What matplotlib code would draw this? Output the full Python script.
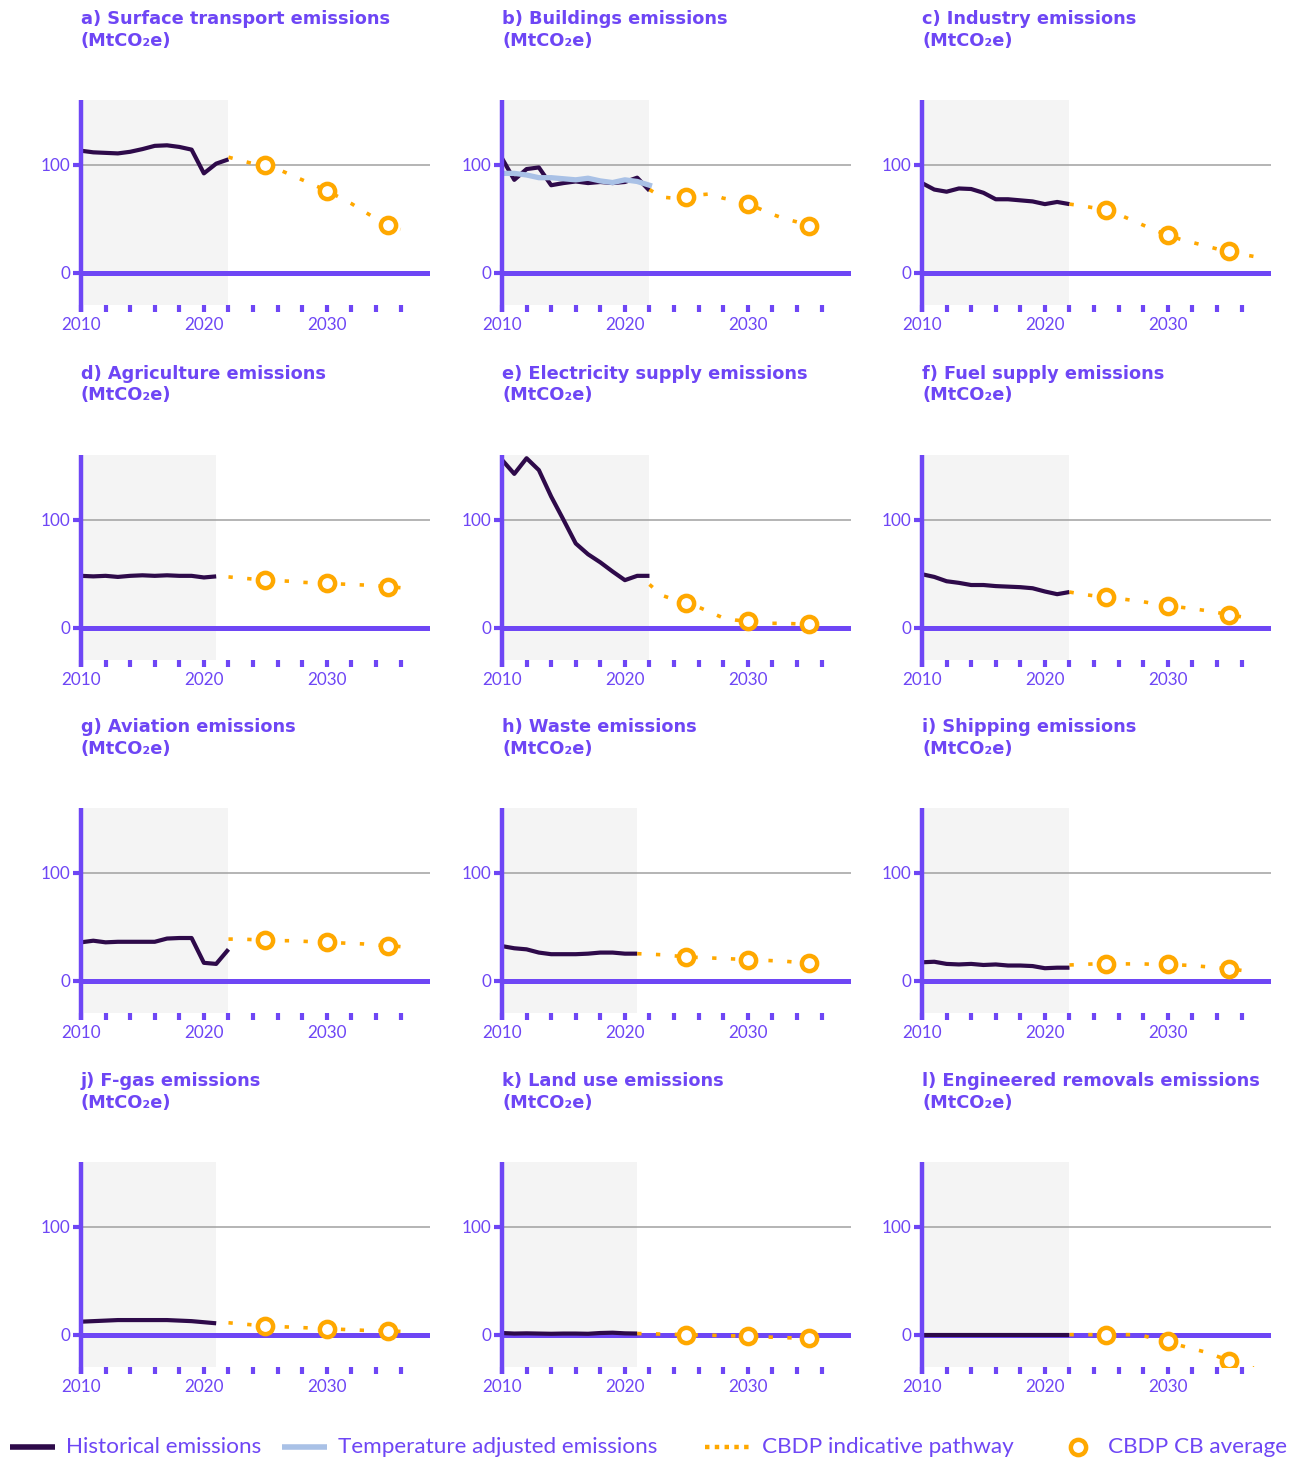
import matplotlib
matplotlib.use("Agg")
import matplotlib.pyplot as plt
import matplotlib.transforms as mtransforms
from matplotlib.lines import Line2D

plt.rcParams['font.family'] = ['Lato', 'DejaVu Sans']

PURPLE = '#6E46F5'
DARK = '#2E0A4A'
ORANGE = '#FFA800'
LBLUE = '#A9C1E6'
SHADE = '#F4F4F4'

titles = [
    "a) Surface transport emissions", "b) Buildings emissions", "c) Industry emissions",
    "d) Agriculture emissions", "e) Electricity supply emissions", "f) Fuel supply emissions",
    "g) Aviation emissions", "h) Waste emissions", "i) Shipping emissions",
    "j) F-gas emissions", "k) Land use emissions", "l) Engineered removals emissions",
]
unit_label = "(MtCO\u2082e)"

# historical emissions (start year 2010)
a_hist = [113, 111.5, 111, 110.5, 112, 114.5, 117.5, 118, 116.5, 114, 92, 101, 105]
b_hist = [106, 86, 96, 97.5, 81, 83, 84.5, 83, 84, 83, 84, 88, 76]
c_hist = [83, 77, 75, 78, 77.5, 74, 68, 68, 67, 66, 63.5, 65.5, 63.5]
d_hist = [48, 47.5, 48, 47, 48, 48.5, 48, 48.5, 48, 48, 46.5, 47.5]
e_hist = [155.5, 142.5, 157, 146, 121.5, 100, 78, 68, 60.5, 52, 44, 48, 48]
f_hist = [49.5, 47, 43, 41.5, 39.5, 39.5, 38.5, 38, 37.5, 36.5, 33.5, 31, 33]
g_hist = [35.5, 37, 35.5, 36, 36, 36, 36, 39, 39.5, 39.5, 16.5, 15.5, 29]
h_hist = [32, 30, 29, 26, 24.5, 24.5, 24.5, 25, 26, 26, 25, 25]
i_hist = [17, 17.5, 15.5, 15, 15.5, 14.5, 15, 14, 14, 13.5, 11.5, 12, 12]
j_hist = [12, 12.5, 13, 13.5, 13.5, 13.5, 13.5, 13.5, 13, 12.5, 11.5, 10.5]
k_hist = [1.5, 1, 1.2, 1, 0.8, 1, 1, 0.8, 1.5, 1.8, 1.2, 1]
l_hist = [0, 0, 0, 0, 0, 0, 0, 0, 0, 0, 0, 0, 0]

# temperature adjusted (buildings only, start 2010)
b_temp = [92, 92, 90.5, 88, 88, 87, 86, 87.5, 85, 83.5, 86, 84.5, 81]

# CBDP indicative pathway (start year given separately)
a_path = [107, 104, 101, 100, 96, 91, 86, 81, 76, 70, 64, 57, 50, 44, 40]
b_path = [77, 70, 69, 70.5, 72, 73, 69, 67, 64, 59, 54, 50, 47, 43, 36]
c_path = [63.5, 62, 60, 58, 54, 49, 44, 39, 35, 31, 28, 25, 22, 20, 17, 15]
d_path = [47, 46, 45, 44, 43.5, 43, 42, 41.5, 41, 40.5, 40, 39.5, 39, 38, 37]
e_path = [40, 30, 26, 22.5, 19, 14, 9, 7, 6, 5, 4, 4, 3.5, 3.5, 3]
f_path = [33, 31, 29.5, 28, 27, 25.5, 24, 22, 20.5, 19, 17.5, 16, 14, 12, 10]
g_path = [38.5, 38.5, 38, 37.5, 37, 37, 36.5, 36, 35.5, 35, 34.5, 34, 33, 32.5, 31.5]
h_path = [25, 24.5, 24, 23, 22, 21.5, 21, 20.5, 20, 19.5, 19, 18.5, 18, 17, 16.5, 15]
i_path = [14.5, 15, 15.5, 15.5, 15.5, 15.5, 15.5, 15, 15, 14.5, 14, 13, 12, 11, 9.5]
j_path = [11, 10, 9, 8, 7.5, 7, 6.5, 6, 5.5, 5, 4.5, 4, 4, 3.5, 3]
k_path = [1, 0.8, 0.5, 0.3, 0, -0.3, -0.6, -0.9, -1.2, -1.5, -2, -2.4, -2.8, -3.2, -3.5, -3.8]
l_path = [0, 0, 0, 0, 0, 0, -1, -4, -7, -10, -13, -16, -20, -24, -28, -31]
path_start = [2022, 2022, 2022, 2022, 2022, 2022, 2022, 2021, 2022, 2022, 2021, 2022]

# CB averages at 2025, 2030, 2035
cb_years = [2025, 2030, 2035]
a_cb = [100, 75.5, 44]
b_cb = [70.5, 64, 43]
c_cb = [58, 35, 20]
d_cb = [44, 41, 38]
e_cb = [22.5, 6.5, 3.7]
f_cb = [28, 20.5, 12]
g_cb = [37.5, 35.5, 32.5]
h_cb = [22, 19.5, 16.5]
i_cb = [15.5, 15, 11]
j_cb = [8, 5.5, 3.5]
k_cb = [0, -1.5, -3.5]
l_cb = [0, -6, -24]

legend_labels = ["Historical emissions", "Temperature adjusted emissions",
                 "CBDP indicative pathway", "CBDP CB average"]

hist_all = [a_hist, b_hist, c_hist, d_hist, e_hist, f_hist, g_hist, h_hist, i_hist, j_hist, k_hist, l_hist]
path_all = [a_path, b_path, c_path, d_path, e_path, f_path, g_path, h_path, i_path, j_path, k_path, l_path]
cb_all = [a_cb, b_cb, c_cb, d_cb, e_cb, f_cb, g_cb, h_cb, i_cb, j_cb, k_cb, l_cb]

W, H = 1305, 1461
fig = plt.figure(figsize=(W / 100, H / 100), dpi=100)

lefts = [81, 502, 922]
tops = [100, 455, 808, 1162]
ax_w, ax_h = 349, 205

for idx in range(12):
    r, c = divmod(idx, 3)
    L, T = lefts[c], tops[r]
    ax = fig.add_axes([L / W, 1 - (T + ax_h) / H, ax_w / W, ax_h / H])
    hist = hist_all[idx]
    hyears = list(range(2010, 2010 + len(hist)))
    shade_end = hyears[-1]
    ax.axvspan(2010, shade_end, color=SHADE, zorder=0, lw=0)
    ax.axhline(100, color='#A0A0A0', lw=1.1, zorder=1)
    ax.axhline(0, color=PURPLE, lw=3.6, zorder=2)
    ax.plot(hyears, hist, color=DARK, lw=3.0, zorder=4, solid_capstyle='butt')
    if idx == 1:
        ax.plot(hyears, b_temp, color=LBLUE, lw=3.8, zorder=5)
    p = path_all[idx]
    pyears = list(range(path_start[idx], path_start[idx] + len(p)))
    ax.plot(pyears, p, color=ORANGE, lw=2.6, linestyle=(0, (1.2, 4.0)), zorder=6)
    ax.plot(cb_years, cb_all[idx], linestyle='none', marker='o', ms=11,
            mfc='white', mec=ORANGE, mew=3.2, zorder=7)

    ax.set_xlim(2010, 2038.4)
    ax.set_ylim(-30, 160)
    for s in ax.spines.values():
        s.set_visible(False)
    trans = mtransforms.blended_transform_factory(ax.transData, ax.transAxes)
    ax.plot([2010, 2010], [-0.035, 1.0], transform=trans, color=PURPLE, lw=3.2,
            clip_on=False, zorder=8, solid_capstyle='butt')
    xt = list(range(2010, 2037, 2))
    ax.set_xticks(xt)
    ax.set_xticklabels([str(y) if y % 10 == 0 else '' for y in xt])
    ax.tick_params(axis='x', direction='out', length=5, width=3.0, colors=PURPLE,
                   labelcolor=PURPLE, labelsize=12.3, pad=3.5)
    ax.set_yticks([0, 100])
    ax.set_yticklabels(['0', '100'])
    ax.tick_params(axis='y', direction='out', length=6, width=3.0, colors=PURPLE,
                   labelcolor=PURPLE, labelsize=12.3, pad=2)
    ax.set_facecolor('none')

    fig.text(L / W, 1 - 10 / H - (T - 100) / H, titles[idx] + "\n" + unit_label,
             ha='left', va='top', color=PURPLE, fontsize=12.8, fontweight='bold',
             family=['DejaVu Sans'], linespacing=1.25)

# legend drawn manually in pixel positions of the figure
ly = 1 - 1447 / H
handle_specs = [
    dict(x0=10, x1=55, kw=dict(color=DARK, lw=4, solid_capstyle='butt')),
    dict(x0=282, x1=327, kw=dict(color=LBLUE, lw=4, solid_capstyle='butt')),
    dict(x0=705, x1=750, kw=dict(color=ORANGE, lw=3.2, linestyle=(0, (1, 1.2)))),
]
for hs in handle_specs:
    fig.add_artist(Line2D([hs['x0'] / W, hs['x1'] / W], [ly, ly],
                          transform=fig.transFigure, **hs['kw']))
fig.add_artist(Line2D([1078 / W], [ly], transform=fig.transFigure, linestyle='none',
                      marker='o', ms=11, mfc='white', mec=ORANGE, mew=3.2))
for xpos, lab in zip([66, 338, 762, 1108], legend_labels):
    fig.text(xpos / W, ly, lab, ha='left', va='center', color=PURPLE, fontsize=16.2)

fig.savefig('out.png', dpi=100)
